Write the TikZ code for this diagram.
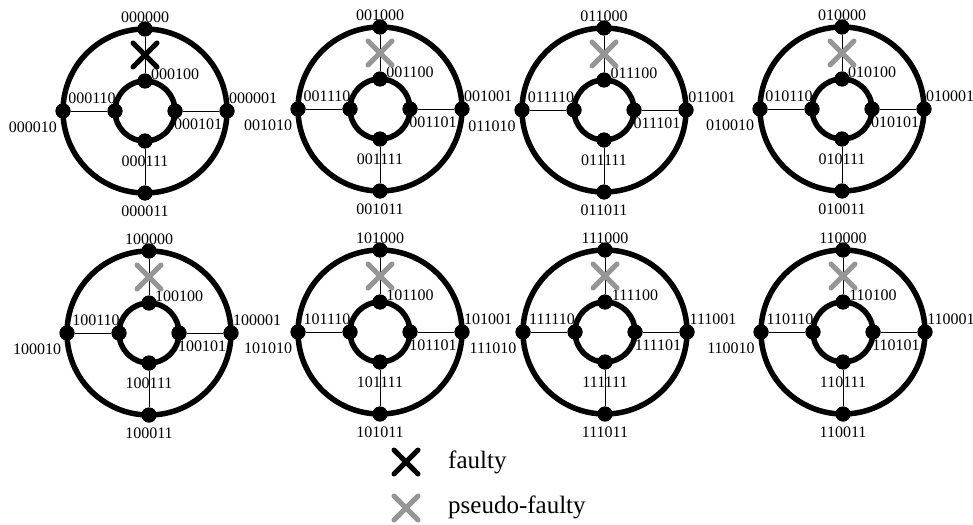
\documentclass[tikz,border=0pt]{standalone}
\usepackage{fontspec}
\setmainfont{Liberation Serif}
\definecolor{pseudo}{RGB}{150,150,150}
\tikzset{
  dot/.style={circle,fill=black,inner sep=0pt,minimum size=15pt},
  ring/.style={line width=5.5pt},
  spoke/.style={line width=0.9pt},
  lab/.style={font=\fontsize{16}{16}\selectfont,inner sep=0pt},
  legendtext/.style={font=\fontsize{25}{25}\selectfont,inner sep=0pt,anchor=base west},
  xmark/.pic={\draw[line width=5pt,line cap=round] (-12,-12) -- (12,12) (-12,12) -- (12,-12);}
}
\begin{document}
\begin{tikzpicture}[x=1pt,y=-1pt]
\useasboundingbox (0,0) rectangle (973,524);
% one twisted cube Q3 block per prefix: outer ring, inner ring and four spokes
\foreach \cx/\cy/\p/\col [count=\i] in {
  145/111/000/black, 380/109/001/pseudo, 604/110/011/pseudo, 842/109/010/pseudo,
  149/333/100/pseudo, 380/332/101/pseudo, 605/332/111/pseudo, 843/332/110/pseudo} {
  \coordinate (c\i) at (\cx,\cy);
  % vertices
  \node[dot] (ot\i) at (\cx,\cy-82) {};
  \node[dot] (ob\i) at (\cx,\cy+82) {};
  \node[dot] (ol\i) at (\cx-82,\cy) {};
  \node[dot] (or\i) at (\cx+82,\cy) {};
  \node[dot] (it\i) at (\cx,\cy-30) {};
  \node[dot] (ib\i) at (\cx,\cy+30) {};
  \node[dot] (il\i) at (\cx-30,\cy) {};
  \node[dot] (ir\i) at (\cx+30,\cy) {};
  % spokes
  \draw[spoke] (ot\i) -- (it\i);
  \draw[spoke] (ob\i) -- (ib\i);
  \draw[spoke] (ol\i) -- (il\i);
  \draw[spoke] (or\i) -- (ir\i);
  % rings
  \draw[ring] (c\i) circle[radius=82];
  \draw[ring] (c\i) circle[radius=30];
  % redraw vertices on top of the rings
  \foreach \v in {ot,ob,ol,or,it,ib,il,ir} \fill (\v\i) circle[radius=7.5];
  % vertex labels
  \node[lab] (lot\i) at (\cx,\cy-94) {\p000};
  \node[lab] (lit\i) at (\cx+30,\cy-37) {\p100};
  \node[lab] (lil\i) at (\cx-53,\cy-13) {\p110};
  \node[lab] (lol\i) at (\cx-112,\cy+16) {\p010};
  \node[lab] (lor\i) at (\cx+108,\cy-13) {\p001};
  \node[lab] (lir\i) at (\cx+53,\cy+13) {\p101};
  \node[lab] (lib\i) at (\cx,\cy+50) {\p111};
  \node[lab] (lob\i) at (\cx,\cy+100) {\p011};
  % fault marker
  \pic[color=\col] at (\cx,\cy-56) {xmark};
}
% legend
\pic[color=black] at (406,462) {xmark};
\node[legendtext] (lf) at (448,468) {faulty};
\pic[color=pseudo] at (406,508) {xmark};
\node[legendtext] (lp) at (448,513) {pseudo-faulty};
\end{tikzpicture}
\end{document}
